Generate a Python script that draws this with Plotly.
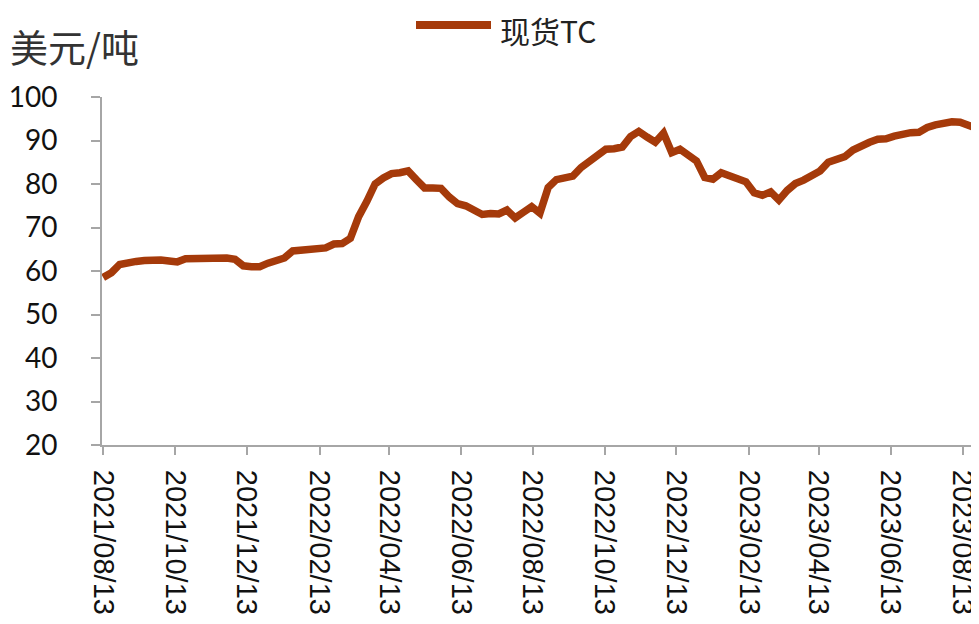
import pandas as pd
import plotly.graph_objects as go

# Weekly spot TC (USD/t)
start_date = "2021-08-13"
tc_values = [
    58.5, 59.6, 61.5, 62.0, 62.2, 62.4, 62.6, 62.5, 62.3, 62.1,
    62.8, 62.9, 62.9, 62.9, 63.0, 63.0, 62.7, 61.2, 61.0, 61.0,
    61.8, 62.2, 63.0, 64.6, 64.7, 64.9, 65.0, 65.3, 66.2, 66.3,
    67.5, 72.5, 76.0, 80.0, 81.4, 82.4, 82.6, 83.0, 81.0, 79.1,
    79.1, 79.0, 77.0, 75.5, 75.0, 74.0, 73.0, 73.2, 73.1, 74.0,
    72.2, 73.5, 74.8, 73.3, 79.2, 81.0, 81.3, 81.8, 83.8, 85.2,
    86.3, 88.0, 88.1, 88.5, 90.9, 92.1, 90.8, 89.6, 91.7, 87.2,
    88.0, 86.5, 85.3, 81.5, 81.1, 82.6, 81.8, 81.0, 80.5, 78.0,
    77.4, 78.2, 76.3, 78.5, 80.1, 80.9, 82.0, 83.0, 85.0, 85.5,
    86.3, 87.8, 88.8, 89.6, 90.3, 90.4, 91.0, 91.5, 91.8, 91.9,
    93.0, 93.6, 94.1, 94.3, 94.2, 93.6, 92.8,
]
dates = pd.date_range(start=start_date, periods=len(tc_values), freq="7D")

tick_dates = [
    "2021-08-13", "2021-10-13", "2021-12-13", "2022-02-13", "2022-04-13",
    "2022-06-13", "2022-08-13", "2022-10-13", "2022-12-13", "2023-02-13",
    "2023-04-13", "2023-06-13", "2023-08-13",
]
tick_labels = [d.replace("-", "/") for d in tick_dates]
y_ticks = [20, 30, 40, 50, 60, 70, 80, 90, 100]

series_name = "现货TC"
unit_label = "美元/吨"

LINE_COLOR = "#A53A0A"
AXIS_COLOR = "#A6A6A6"

# page body adds an 8px offset; target plot area in screenshot px: x 102..979, y 97..445
OFF = 8
W, H = 979, 624
L, T = 102 - OFF, 97 - OFF
R = W - (979 - OFF)
B = H - (445 - OFF)
PW, PH = W - L - R, H - T - B


def px_x(p):
    return (p - OFF - L) / PW


def px_y(p):
    return 1 + (T - (p - OFF)) / PH


fig = go.Figure()
fig.add_trace(go.Scatter(
    x=dates, y=tc_values, mode="lines", name=series_name,
    line=dict(color=LINE_COLOR, width=7.5, shape="linear"),
    showlegend=False,
))

# legend (drawn like the reference: long line sample + label)
fig.add_shape(
    type="line", xref="paper", yref="paper",
    x0=px_x(416), x1=px_x(491), y0=px_y(25), y1=px_y(25),
    line=dict(color=LINE_COLOR, width=8), layer="above",
)

fig.update_layout(
    width=W, height=H,
    margin=dict(l=L, r=R, t=T, b=B),
    paper_bgcolor="white", plot_bgcolor="white",
    annotations=[
        dict(
            text=unit_label, xref="paper", yref="paper",
            x=px_x(8), y=px_y(45), xanchor="left", yanchor="middle",
            showarrow=False,
            font=dict(family="Noto Sans CJK SC", size=38, color="#333333"),
        ),
        dict(
            text=series_name, xref="paper", yref="paper",
            x=px_x(498), y=px_y(30), xanchor="left", yanchor="middle",
            showarrow=False,
            font=dict(family="Noto Sans CJK SC", size=30, color="#222222"),
        ),
    ],
)

fig.update_xaxes(
    type="date", automargin=False,
    range=["2021-08-12", "2023-08-27"],
    tickvals=tick_dates, ticktext=tick_labels, tickangle=90,
    tickfont=dict(family="Liberation Sans", size=29, color="#111111"),
    showgrid=False, zeroline=False,
    showline=True, linecolor=AXIS_COLOR, linewidth=2,
    ticks="outside", ticklen=8, tickcolor=AXIS_COLOR, tickwidth=2,
    ticklabelstandoff=9, ticklabeloverflow="allow",
)
fig.update_yaxes(
    range=[20, 100], tickvals=y_ticks, automargin=False,
    tickfont=dict(family="Lato", size=28, color="#111111"),
    showgrid=False, zeroline=False,
    showline=True, linecolor=AXIS_COLOR, linewidth=2,
    ticks="outside", ticklen=9, tickcolor=AXIS_COLOR, tickwidth=2,
    ticklabelstandoff=28,
)

fig.write_html("out.html")
